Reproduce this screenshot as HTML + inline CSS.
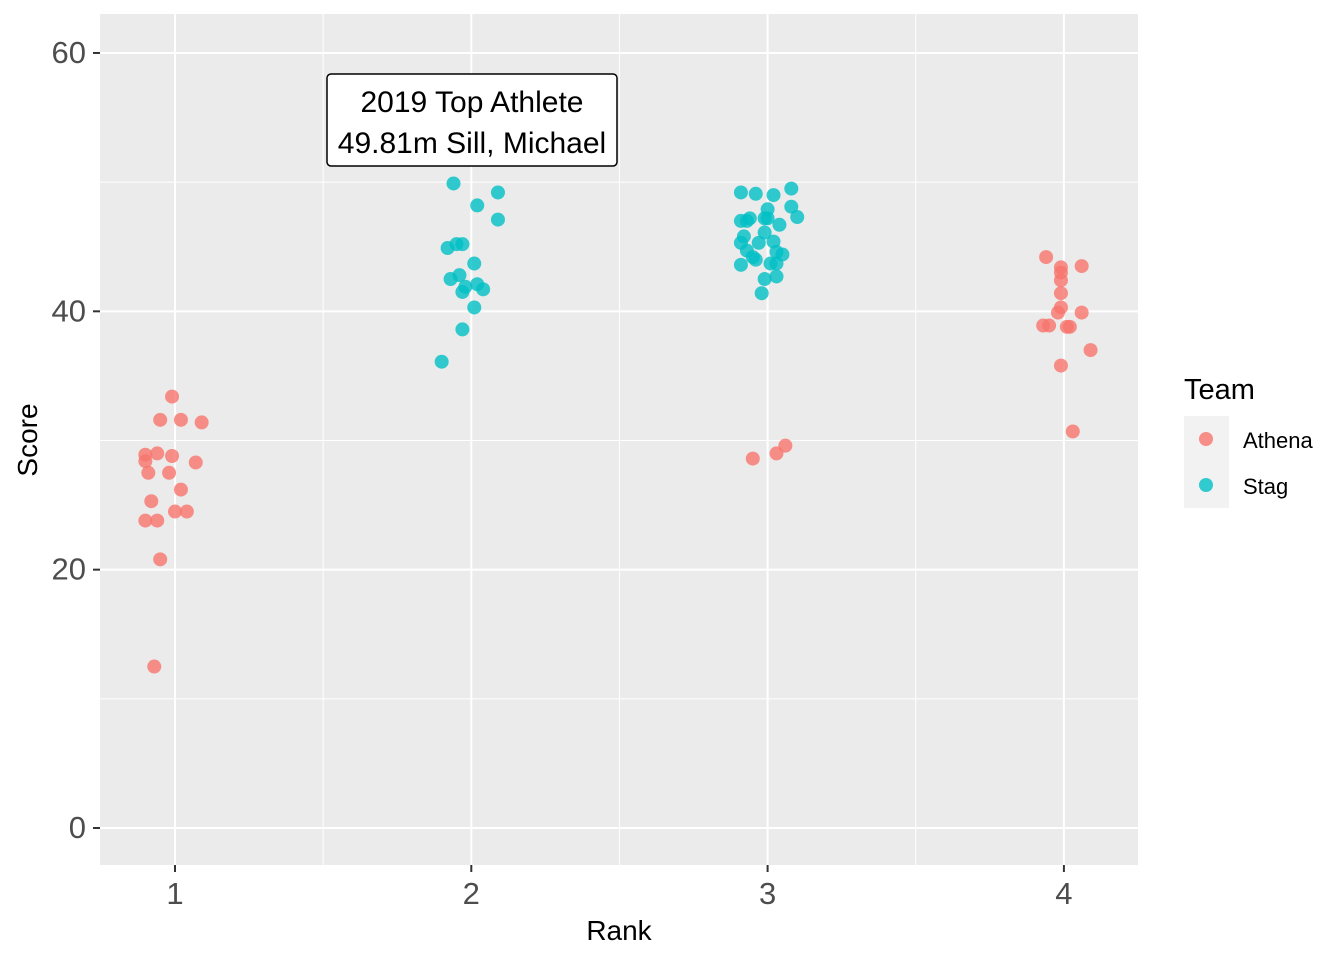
<!DOCTYPE html>
<html><head><meta charset="utf-8"><style>
body{margin:0;background:#fff;}
svg{display:block;font-family:"Liberation Sans",sans-serif;}
</style></head><body>
<svg id="chart" width="1344" height="960">
<rect x="100" y="14" width="1038" height="851" fill="#EBEBEB"/>
<g id="grid"></g><g id="pts"></g><g id="axes"></g>
<g>
<rect x="327" y="74" width="290" height="92" rx="4" fill="#fff" stroke="#000" stroke-width="1.5"/>
<text x="472" y="112" text-anchor="middle" font-size="30">2019 Top Athlete</text>
<text x="472" y="153" text-anchor="middle" font-size="30">49.81m Sill, Michael</text>
</g>
<text x="619" y="940" text-anchor="middle" font-size="28">Rank</text>
<text transform="translate(37,440) rotate(-90)" text-anchor="middle" font-size="28">Score</text>
<g>
<text x="1184" y="399" font-size="29">Team</text>
<rect x="1184" y="416" width="45" height="46" fill="#F2F2F2"/>
<rect x="1184" y="462" width="45" height="46" fill="#F2F2F2"/>
<circle cx="1206" cy="439" r="7" fill="#F8766D" fill-opacity="0.8"/>
<circle cx="1206" cy="485" r="7" fill="#00BFC4" fill-opacity="0.8"/>
<text x="1243" y="448" font-size="22">Athena</text>
<text x="1243" y="494" font-size="22">Stag</text>
</g>
</svg>
<script>
const yTicks=[0,20,40,60];
const yMinor=[10,30,50];
const xTicks=[1,2,3,4];
const xMinor=[1.5,2.5,3.5];
const athenaX=[0.99,0.95,1.02,1.09,0.90,0.94,0.99,0.90,0.98,0.91,1.07,1.02,0.92,1.00,1.04,0.90,0.94,0.95,0.93,2.95,3.03,3.06,3.94,3.99,4.06,3.99,3.99,3.99,3.99,3.98,4.06,3.95,3.93,4.01,4.02,4.09,3.99,4.03];
const athenaY=[33.4,31.6,31.6,31.4,28.9,29.0,28.8,28.4,27.5,27.5,28.3,26.2,25.3,24.5,24.5,23.8,23.8,20.8,12.5,28.6,29.0,29.6,44.2,43.4,43.5,43.0,42.4,41.4,40.3,39.9,39.9,38.9,38.9,38.8,38.8,37.0,35.8,30.7];
const stagX=[1.94,2.09,2.02,2.09,1.92,1.95,1.97,2.01,1.93,1.96,1.98,1.97,2.02,2.04,2.01,1.97,1.90,2.91,2.96,3.02,3.08,3.08,3.00,3.00,2.94,2.93,2.91,3.04,3.10,2.99,2.99,2.92,3.02,2.91,2.97,2.93,2.95,2.96,3.05,3.03,2.91,3.01,3.03,2.99,3.03,2.98];
const stagY=[49.9,49.2,48.2,47.1,44.9,45.2,45.2,43.7,42.5,42.8,41.9,41.5,42.1,41.7,40.3,38.6,36.1,49.2,49.1,49.0,49.5,48.1,47.9,47.2,47.2,47.0,47.0,46.7,47.3,47.2,46.1,45.8,45.4,45.3,45.3,44.7,44.2,44.0,44.4,44.6,43.6,43.7,43.7,42.5,42.7,41.4];
const sx=v=>175+(v-1)*296.3;
const sy=v=>828-v*12.917;
const NS='http://www.w3.org/2000/svg';
function mk(tag,attrs,parent){const e=document.createElementNS(NS,tag);for(const k in attrs)e.setAttribute(k,attrs[k]);parent.appendChild(e);return e;}
const grid=document.getElementById('grid'),axes=document.getElementById('axes'),pts=document.getElementById('pts');
yMinor.forEach(v=>{const l=mk('line',{x1:100,x2:1138,y1:sy(v),y2:sy(v),stroke:'#fff','stroke-width':1},grid);

});
xMinor.forEach(v=>{const l=mk('line',{x1:sx(v),x2:sx(v),y1:14,y2:865,stroke:'#fff','stroke-width':1},grid);

});
yTicks.forEach(v=>{const l=mk('line',{x1:100,x2:1138,y1:sy(v),y2:sy(v),stroke:'#fff','stroke-width':2},grid);


mk('line',{x1:93,x2:100,y1:sy(v),y2:sy(v),stroke:'#333','stroke-width':2},axes);
const t=mk('text',{x:86,y:sy(v)+10,'text-anchor':'end','font-size':31,fill:'#4D4D4D'},axes);t.textContent=v;

});
xTicks.forEach(v=>{const l=mk('line',{x1:sx(v),x2:sx(v),y1:14,y2:865,stroke:'#fff','stroke-width':2},grid);


mk('line',{x1:sx(v),x2:sx(v),y1:865,y2:872,stroke:'#333','stroke-width':2},axes);
const t=mk('text',{x:sx(v),y:904,'text-anchor':'middle','font-size':31,fill:'#4D4D4D'},axes);t.textContent=v;

});
athenaX.forEach((x,i)=>{const c=mk('circle',{cx:sx(x),cy:sy(athenaY[i]),r:7,fill:'#F8766D','fill-opacity':0.8},pts);

});
stagX.forEach((x,i)=>{const c=mk('circle',{cx:sx(x),cy:sy(stagY[i]),r:7,fill:'#00BFC4','fill-opacity':0.8},pts);

});
</script>
</body></html>
